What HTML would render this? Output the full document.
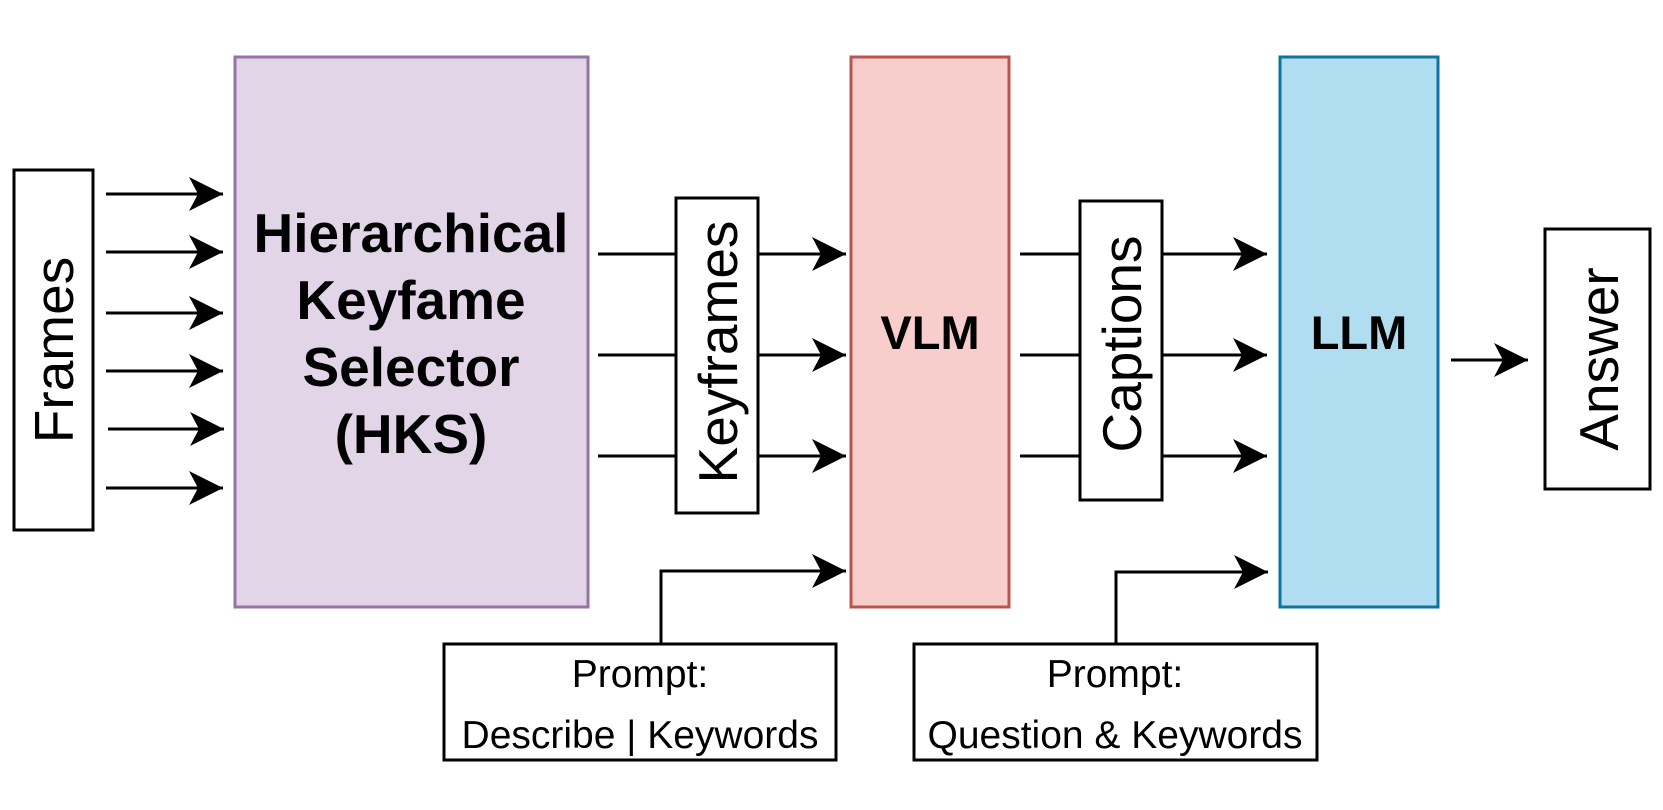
<!DOCTYPE html>
<html><head><meta charset="utf-8"><style>
html,body{margin:0;padding:0;background:#fff;}
svg{display:block;}
text{font-family:"Liberation Sans",Arial,sans-serif;fill:#000;}
</style></head><body>
<svg width="1663" height="810" viewBox="0 0 1663 810" xmlns="http://www.w3.org/2000/svg">
<defs>
<marker id="a" markerUnits="userSpaceOnUse" markerWidth="40" markerHeight="40" refX="34" refY="17" orient="auto">
<path d="M0,0 L34,17 L0,34 L9,17 Z" fill="#000"/>
</marker>
</defs>
<g stroke="#000" stroke-width="3" fill="none">
<line x1="106" y1="194" x2="223" y2="194" marker-end="url(#a)"/>
<line x1="106" y1="252" x2="223" y2="252" marker-end="url(#a)"/>
<line x1="106" y1="313" x2="223" y2="313" marker-end="url(#a)"/>
<line x1="106" y1="371" x2="223" y2="371" marker-end="url(#a)"/>
<line x1="108" y1="429" x2="224" y2="429" marker-end="url(#a)"/>
<line x1="106" y1="488" x2="223" y2="488" marker-end="url(#a)"/>
<line x1="598" y1="254" x2="846" y2="254" marker-end="url(#a)"/>
<line x1="598" y1="355" x2="846" y2="355" marker-end="url(#a)"/>
<line x1="598" y1="456" x2="846" y2="456" marker-end="url(#a)"/>
<polyline points="661,644 661,571 846,571" marker-end="url(#a)"/>
<line x1="1020" y1="254" x2="1267" y2="254" marker-end="url(#a)"/>
<line x1="1020" y1="355" x2="1267" y2="355" marker-end="url(#a)"/>
<line x1="1020" y1="456" x2="1267" y2="456" marker-end="url(#a)"/>
<polyline points="1116,644 1116,572 1268,572" marker-end="url(#a)"/>
<line x1="1451" y1="360" x2="1528" y2="360" marker-end="url(#a)"/>
</g>
<rect x="14" y="170" width="79" height="360" fill="#fff" stroke="#000" stroke-width="3"/>
<rect x="235" y="57" width="353" height="550" fill="#e1d5e7" stroke="#9673a6" stroke-width="3"/>
<rect x="676" y="198" width="82" height="315" fill="#fff" stroke="#000" stroke-width="3"/>
<rect x="851" y="57" width="158" height="550" fill="#f8cecc" stroke="#b85450" stroke-width="3"/>
<rect x="1080" y="201" width="82" height="299" fill="#fff" stroke="#000" stroke-width="3"/>
<rect x="1280" y="57" width="158" height="550" fill="#b1ddf0" stroke="#10739e" stroke-width="3"/>
<rect x="1545" y="229" width="105" height="260" fill="#fff" stroke="#000" stroke-width="3"/>
<rect x="444" y="644" width="392" height="116" fill="#fff" stroke="#000" stroke-width="3"/>
<rect x="914" y="644" width="403" height="116" fill="#fff" stroke="#000" stroke-width="3"/>
<text transform="translate(73,350) rotate(-90)" text-anchor="middle" font-size="55">Frames</text>
<text transform="translate(737,352) rotate(-90)" text-anchor="middle" font-size="55">Keyframes</text>
<text transform="translate(1141,344) rotate(-90)" text-anchor="middle" font-size="55">Captions</text>
<text transform="translate(1618,359) rotate(-90)" text-anchor="middle" font-size="55">Answer</text>
<g font-weight="bold" font-size="55" text-anchor="middle">
<text x="411" y="252">Hierarchical</text>
<text x="411" y="319">Keyfame</text>
<text x="411" y="386">Selector</text>
<text x="411" y="453">(HKS)</text>
</g>
<text x="930" y="349" font-weight="bold" font-size="47" text-anchor="middle">VLM</text>
<text x="1359" y="349" font-weight="bold" font-size="47" text-anchor="middle">LLM</text>
<g font-size="39" text-anchor="middle">
<text x="640" y="687">Prompt:</text>
<text x="640" y="748">Describe | Keywords</text>
<text x="1115" y="687">Prompt:</text>
<text x="1115" y="748">Question &amp; Keywords</text>
</g>
</svg>
</body></html>
